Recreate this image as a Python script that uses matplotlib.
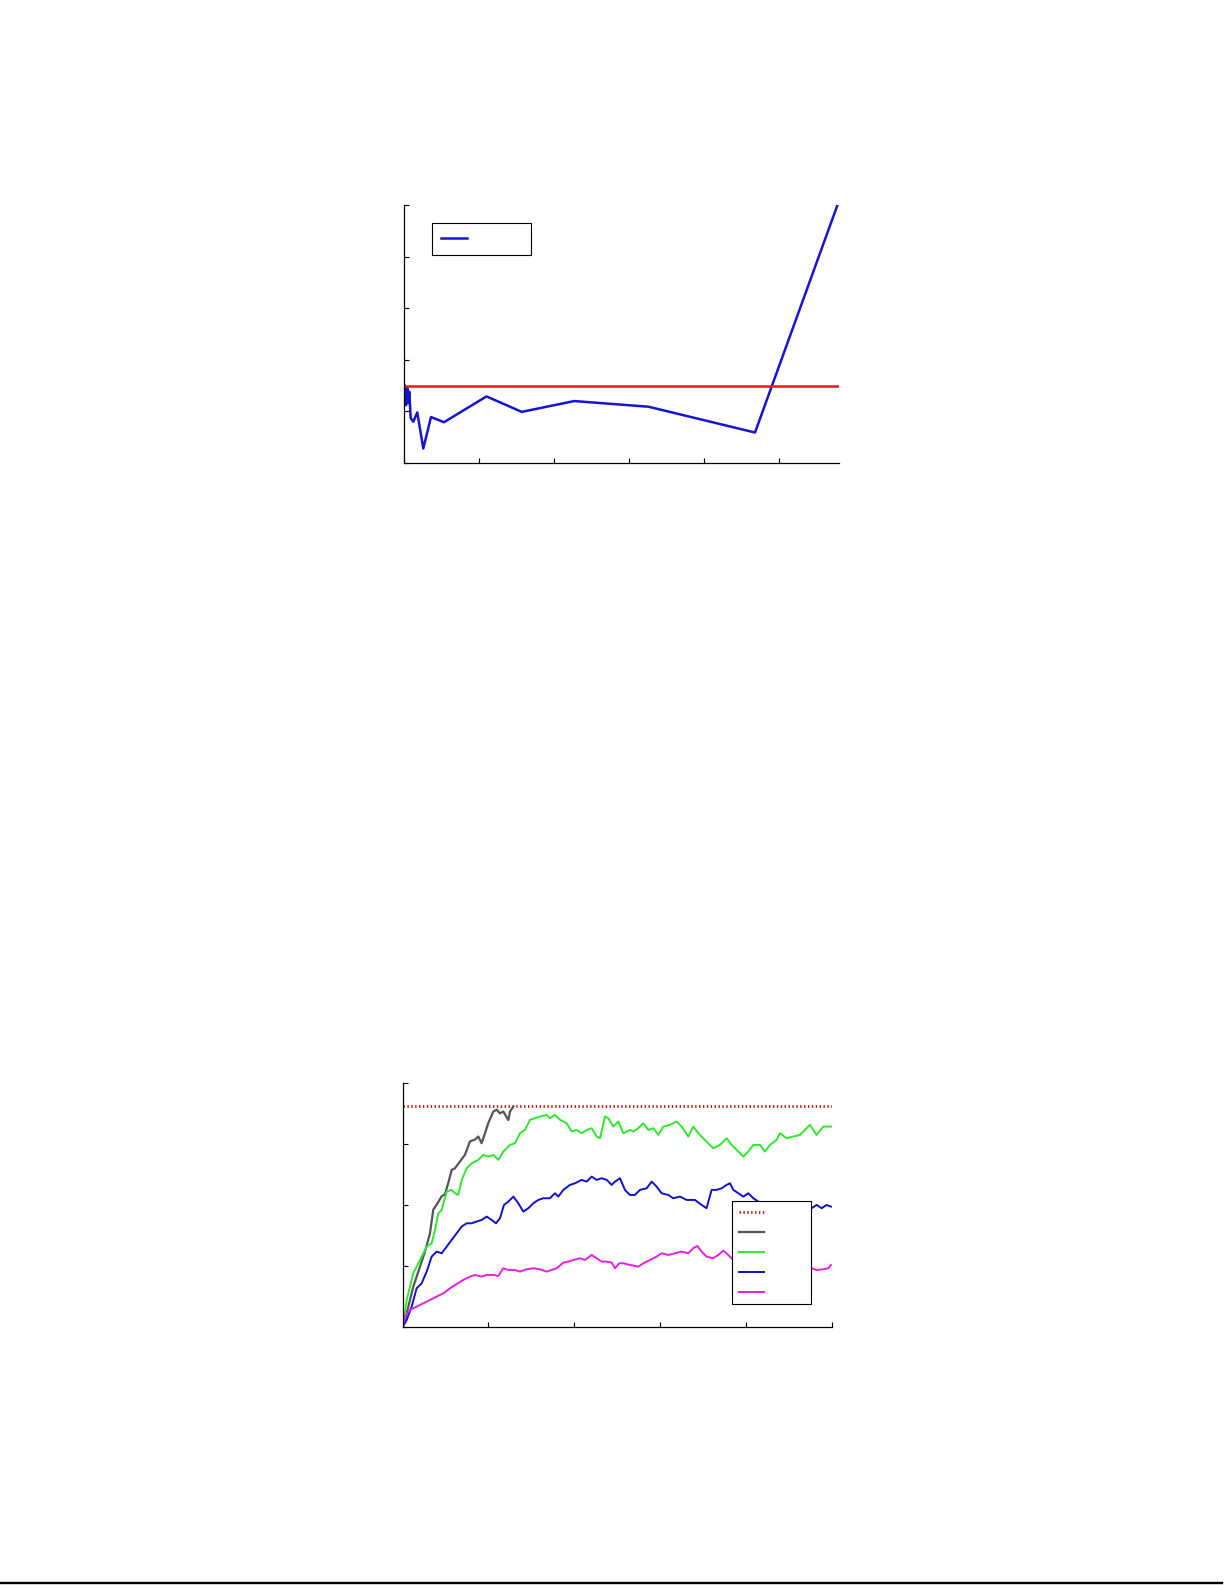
import matplotlib.pyplot as plt
from matplotlib.lines import Line2D

# ---- top panel data ----
top_x = [0.01, 0.027, 0.044, 0.057, 0.071, 0.089, 0.124, 0.177, 0.257, 0.36,
         0.533, 1.10, 1.57, 2.27, 3.26, 4.68, 5.78]
top_y = [1.50, 1.12, 1.45, 1.16, 1.38, 0.87, 0.80, 0.98, 0.28, 0.89,
         0.79, 1.29, 0.99, 1.20, 1.09, 0.59, 5.0]
top_ref = 1.5

# ---- bottom panel data ----
ref_level = 3.62

gray_x = [0, 0.047, 0.124, 0.202, 0.26, 0.318, 0.357, 0.396, 0.455, 0.493, 0.532,
          0.571, 0.61, 0.668, 0.726, 0.785, 0.843, 0.882, 0.92, 0.959, 0.998,
          1.057, 1.096, 1.134, 1.173, 1.232, 1.251, 1.29]
gray_y = [0, 0.219, 0.657, 0.985, 1.23, 1.53, 1.92, 2.0, 2.14, 2.17, 2.36,
          2.57, 2.60, 2.71, 2.82, 3.04, 3.07, 3.12, 3.01, 3.17, 3.34,
          3.53, 3.56, 3.50, 3.53, 3.39, 3.53, 3.61]

green_x = [0, 0.047, 0.124, 0.202, 0.28, 0.338, 0.377, 0.416, 0.455, 0.513, 0.571,
           0.61, 0.649, 0.688, 0.746, 0.804, 0.882, 0.94, 0.998, 1.057, 1.115,
           1.173, 1.251, 1.309, 1.368, 1.426, 1.484, 1.542, 1.601, 1.678, 1.717,
           1.775, 1.834, 1.911, 1.97, 2.028, 2.086, 2.145, 2.203, 2.261, 2.3,
           2.358, 2.397, 2.455, 2.514, 2.572, 2.649, 2.688, 2.746, 2.805, 2.863,
           2.921, 2.98, 3.038, 3.116, 3.193, 3.252, 3.329, 3.387, 3.446, 3.523,
           3.62, 3.698, 3.776, 3.834, 3.912, 3.97, 4.028, 4.087, 4.165, 4.222,
           4.281, 4.358, 4.397, 4.475, 4.552, 4.63, 4.669, 4.747, 4.825, 4.903,
           4.992]
green_y = [0, 0.438, 0.876, 1.094, 1.313, 1.368, 1.587, 1.86, 1.915, 2.216, 2.244,
           2.189, 2.161, 2.408, 2.599, 2.681, 2.736, 2.818, 2.791, 2.818, 2.736,
           2.873, 2.982, 3.01, 3.174, 3.228, 3.393, 3.42, 3.447, 3.475, 3.42,
           3.475, 3.393, 3.338, 3.201, 3.228, 3.174, 3.228, 3.256, 3.119, 3.092,
           3.447, 3.42, 3.283, 3.365, 3.174, 3.228, 3.201, 3.256, 3.338, 3.228,
           3.256, 3.146, 3.283, 3.311, 3.365, 3.283, 3.119, 3.283, 3.174, 3.064,
           2.927, 2.982, 3.092, 2.982, 2.873, 2.791, 2.873, 2.982, 2.982, 2.873,
           2.982, 3.064, 3.174, 3.092, 3.119, 3.146, 3.201, 3.311, 3.146, 3.283,
           3.283]

blue_x = [0, 0.047, 0.105, 0.163, 0.221, 0.28, 0.338, 0.396, 0.455, 0.513, 0.571,
          0.629, 0.688, 0.746, 0.804, 0.862, 0.921, 0.979, 1.037, 1.088, 1.134,
          1.181, 1.232, 1.29, 1.348, 1.406, 1.465, 1.523, 1.581, 1.639, 1.717,
          1.775, 1.814, 1.873, 1.95, 2.009, 2.086, 2.145, 2.203, 2.261, 2.319,
          2.378, 2.436, 2.475, 2.533, 2.591, 2.649, 2.707, 2.766, 2.844, 2.902,
          2.96, 3.018, 3.096, 3.154, 3.232, 3.31, 3.407, 3.484, 3.542, 3.601,
          3.659, 3.718, 3.776, 3.815, 3.854, 3.912, 3.97, 4.028, 4.087, 4.145,
          4.203, 4.281, 4.358, 4.436, 4.533, 4.63, 4.708, 4.766, 4.825, 4.883,
          4.941, 4.992]
blue_y = [0, 0.109, 0.328, 0.629, 0.711, 0.903, 1.149, 1.231, 1.204, 1.313, 1.423,
          1.532, 1.642, 1.696, 1.696, 1.724, 1.751, 1.806, 1.751, 1.696, 1.778,
          1.997, 2.052, 2.134, 2.025, 1.888, 1.943, 2.025, 2.079, 2.107, 2.107,
          2.189, 2.134, 2.244, 2.326, 2.353, 2.408, 2.38, 2.462, 2.408, 2.435,
          2.408, 2.326, 2.38, 2.435, 2.244, 2.161, 2.161, 2.244, 2.271, 2.38,
          2.298, 2.189, 2.161, 2.107, 2.134, 2.079, 2.079, 1.997, 1.943, 2.244,
          2.244, 2.271, 2.326, 2.353, 2.244, 2.189, 2.134, 2.189, 2.107, 2.052,
          2.025, 1.997, 1.997, 1.997, 1.97, 1.97, 1.943, 1.943, 1.997, 1.943,
          1.997, 1.97]

magenta_x = [0, 0.027, 0.085, 0.163, 0.241, 0.319, 0.396, 0.474, 0.552, 0.629,
             0.707, 0.785, 0.843, 0.921, 0.979, 1.057, 1.115, 1.173, 1.232, 1.309,
             1.368, 1.445, 1.523, 1.601, 1.678, 1.737, 1.795, 1.873, 1.931, 1.989,
             2.067, 2.125, 2.203, 2.261, 2.319, 2.378, 2.436, 2.475, 2.525, 2.572,
             2.649, 2.746, 2.805, 2.882, 2.96, 3.018, 3.096, 3.174, 3.252, 3.329,
             3.387, 3.434, 3.484, 3.542, 3.62, 3.679, 3.737, 3.795, 3.854, 4.0,
             4.15, 4.3, 4.45, 4.766, 4.825, 4.903, 4.961, 4.992]
magenta_y = [0, 0.164, 0.274, 0.328, 0.383, 0.438, 0.492, 0.547, 0.629, 0.7,
             0.766, 0.821, 0.848, 0.821, 0.848, 0.848, 0.832, 0.958, 0.93, 0.93,
             0.903, 0.941, 0.958, 0.941, 0.903, 0.93, 0.958, 1.051, 1.067, 1.094,
             1.122, 1.094, 1.176, 1.122, 1.067, 1.067, 1.051, 0.958, 1.04, 1.04,
             1.012, 0.985, 1.04, 1.094, 1.149, 1.204, 1.176, 1.204, 1.231, 1.204,
             1.286, 1.324, 1.231, 1.149, 1.122, 1.176, 1.248, 1.176, 1.094, 1.05,
             1.08, 1.02, 1.0, 0.958, 0.93, 0.941, 0.958, 1.012]

pad_top = '          '
pad_bot = '         '

fig = plt.figure(figsize=(12.25, 15.85), dpi=100)


def style_axes(ax):
    ax.spines['top'].set_visible(False)
    ax.spines['right'].set_visible(False)
    for s in ('left', 'bottom'):
        ax.spines[s].set_linewidth(0.9)
    ax.tick_params(direction='in', length=3.6, width=0.8,
                   labelleft=False, labelbottom=False)


# top panel
ax1 = fig.add_axes([0.3298, 0.7079, 0.3551, 0.1628])
ax1.plot(top_x, top_y, color='#1414d2', lw=1.8, label=pad_top)
ax1.axhline(top_ref, color='#e01a1a', lw=1.8)
ax1.set_xlim(0, 5.8)
ax1.set_ylim(0, 5)
ax1.set_xticks(range(0, 6))
ax1.set_yticks(range(0, 6))
style_axes(ax1)
leg1 = ax1.legend(loc='upper left', bbox_to_anchor=(0.064, 0.930), borderaxespad=0,
                  fontsize=10, handlelength=1.9, borderpad=0.65, fancybox=False,
                  framealpha=1, edgecolor='black')
leg1.get_frame().set_linewidth(0.8)

# bottom panel
ax2 = fig.add_axes([0.3287, 0.1630, 0.3502, 0.1538])
ax2.axhline(ref_level, color='#c41010', lw=2.0, linestyle=(0, (0.5, 0.9)),
            dash_capstyle='butt', label=pad_bot)
ax2.plot(gray_x, gray_y, color='#555555', lw=1.6, label=pad_bot)
ax2.plot(green_x, green_y, color='#2ee82e', lw=1.4, label=pad_bot)
ax2.plot(blue_x, blue_y, color='#1010d0', lw=1.4, label=pad_bot)
ax2.plot(magenta_x, magenta_y, color='#e61ee6', lw=1.4, label=pad_bot)
ax2.set_xlim(0, 5)
ax2.set_ylim(0, 4)
ax2.set_xticks(range(0, 6))
ax2.set_yticks(range(0, 5))
style_axes(ax2)
leg2 = ax2.legend(loc='upper left', bbox_to_anchor=(0.7676, 0.5158), borderaxespad=0,
                  fontsize=8, handlelength=2.25, borderpad=0.6, labelspacing=0.9,
                  fancybox=False, framealpha=1, edgecolor='black')
leg2.get_frame().set_linewidth(0.8)

# page edge line at the bottom
fig.add_artist(Line2D([0, 0.9975], [0.0012, 0.0012], transform=fig.transFigure,
                      color='black', lw=1.7))

fig.savefig('out.png', dpi=100)
